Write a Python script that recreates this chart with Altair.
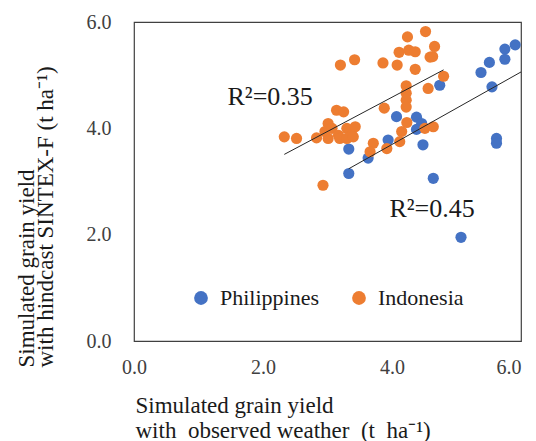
import altair as alt
import pandas as pd

# ---- data ----
countries = ["Philippines", "Indonesia"]
colors = ["#4472C4", "#ED7D31"]

ph_x = [3.33, 3.33, 3.63, 3.94, 4.07, 4.38, 4.46, 4.38, 4.48, 4.64,
        4.74, 5.07, 5.38, 5.51, 5.55, 5.62, 5.62, 5.75, 5.75, 5.91]
ph_y = [3.61, 3.15, 3.44, 3.78, 4.22, 4.21, 4.09, 3.98, 3.69, 3.06,
        4.81, 1.95, 5.05, 5.24, 4.78, 3.81, 3.72, 5.49, 5.30, 5.57]

id_x = [4.52, 4.24, 4.11, 4.26, 4.36, 4.66, 4.59, 4.63, 3.20, 3.42,
        3.86, 4.08, 4.36, 4.80, 4.56, 4.22, 4.22, 4.22, 4.22, 3.88,
        4.23, 4.15, 4.12, 4.51, 4.64, 3.71, 3.66, 3.92, 2.33, 2.52,
        2.83, 3.14, 3.25, 3.01, 2.96, 3.07, 3.17, 3.30, 3.38, 3.43,
        3.01, 3.19, 3.30, 3.40, 2.93]
id_y = [5.82, 5.72, 5.43, 5.47, 5.44, 5.54, 5.34, 5.35, 5.19, 5.29,
        5.23, 5.19, 5.11, 4.98, 4.75, 4.80, 4.66, 4.53, 4.40, 4.38,
        4.11, 3.94, 3.75, 4.00, 4.03, 3.72, 3.56, 3.62, 3.84, 3.81,
        3.82, 4.34, 4.31, 4.09, 3.94, 4.00, 3.87, 4.00, 3.87, 4.03,
        3.81, 3.81, 3.81, 3.84, 2.93]

# trendline end points (Excel linear trendlines)
trend_group = ["Indonesia", "Indonesia", "Philippines", "Philippines"]
trend_x = [2.33, 4.80, 3.33, 6.00]
trend_y = [3.51, 5.10, 3.24, 5.06]

# R² annotations
r2_text = ["R\u00b2=0.35", "R\u00b2=0.45"]
r2_x = [1.45, 3.96]
r2_y = [4.44, 2.34]

x_ticks = [0, 2, 4, 6]
y_ticks = [0, 2, 4, 6]

NB = "\u00a0"
x_title = ["Simulated grain yield",
           "with" + NB * 2 + "observed weather" + NB * 2 + "(t" + NB * 2 + "ha\u207b\u00b9)"]
y_title = ["Simulated grain yield", "with hindcast SINTEX-F (t ha\u207b\u00b9)"]

# ---- tables ----
pts = pd.DataFrame({
    "x": ph_x + id_x,
    "y": ph_y + id_y,
    "country": [countries[0]] * len(ph_x) + [countries[1]] * len(id_x),
    "order": [0] * len(ph_x) + [1] * len(id_x),
})
trend = pd.DataFrame({"x": trend_x, "y": trend_y, "group": trend_group})
ann = pd.DataFrame({"x": r2_x, "y": r2_y, "label": r2_text})

FONT = "Liberation Serif"
xs = alt.Scale(domain=[0, 6], nice=False, zero=False)
ys = alt.Scale(domain=[0, 6], nice=False, zero=False)

x_axis = alt.Axis(
    values=x_ticks, format=".1f", grid=False, ticks=False, tickSize=0, domain=False,
    labelFont=FONT, labelFontSize=20, labelColor="#404040", labelPadding=16,
    labelFlush=False, labelOverlap=False,
    labelAlign={"condition": {"test": "datum.value >= 6", "value": "right"}, "value": "center"},
    title=x_title, titleFont=FONT, titleFontSize=23, titleFontWeight="normal",
    titleColor="#1a1a1a", titleAlign="left", titleAnchor="start",
    titleBaseline="alphabetic", titleX=1, titleY=71, titleLineHeight=25,
)
y_axis = alt.Axis(
    values=y_ticks, format=".1f", grid=False, ticks=False, tickSize=0, domain=False,
    labelFont=FONT, labelFontSize=20, labelColor="#404040", labelPadding=23,
    labelFlush=False, labelOverlap=False,
    title=y_title, titleFont=FONT, titleFontSize=23, titleFontWeight="normal",
    titleColor="#1a1a1a", titleAngle=270, titleAlign="left", titleAnchor="start",
    titleBaseline="alphabetic", titleX=-101, titleY=345, titleLineHeight=19,
)

points = alt.Chart(pts).mark_circle(size=125, opacity=1).encode(
    x=alt.X("x:Q", scale=xs, axis=x_axis),
    y=alt.Y("y:Q", scale=ys, axis=y_axis),
    color=alt.Color(
        "country:N",
        scale=alt.Scale(domain=countries, range=colors),
        legend=alt.Legend(
            orient="none", legendX=56, legendY=265, direction="horizontal",
            title=None, symbolType="circle", symbolSize=190, symbolStrokeWidth=0,
            symbolOpacity=1, labelFont=FONT, labelFontSize=22, labelColor="#1a1a1a",
            labelOffset=8, columnPadding=28, padding=0,
        ),
    ),
    order=alt.Order("order:Q"),
)

lines = alt.Chart(trend).mark_line(color="#262626", strokeWidth=1).encode(
    x=alt.X("x:Q", scale=xs),
    y=alt.Y("y:Q", scale=ys),
    detail="group:N",
)

labels = alt.Chart(ann).mark_text(
    font=FONT, fontSize=26, color="#1a1a1a", align="left", baseline="alphabetic"
).encode(
    x=alt.X("x:Q", scale=xs),
    y=alt.Y("y:Q", scale=ys),
    text="label:N",
)

chart = alt.layer(points, lines, labels).properties(
    width=387, height=319,
    autosize=alt.AutoSizeParams(type="none"),
    padding={"left": 126, "top": 14, "right": 7, "bottom": 100},
).configure(font=FONT).configure_axis(
    labelFont=FONT, titleFont=FONT
).configure_legend(labelFont=FONT).configure_view(stroke="#404040", strokeWidth=1.2)

chart.save("out.html", embed_options={"renderer": "svg", "actions": False})
